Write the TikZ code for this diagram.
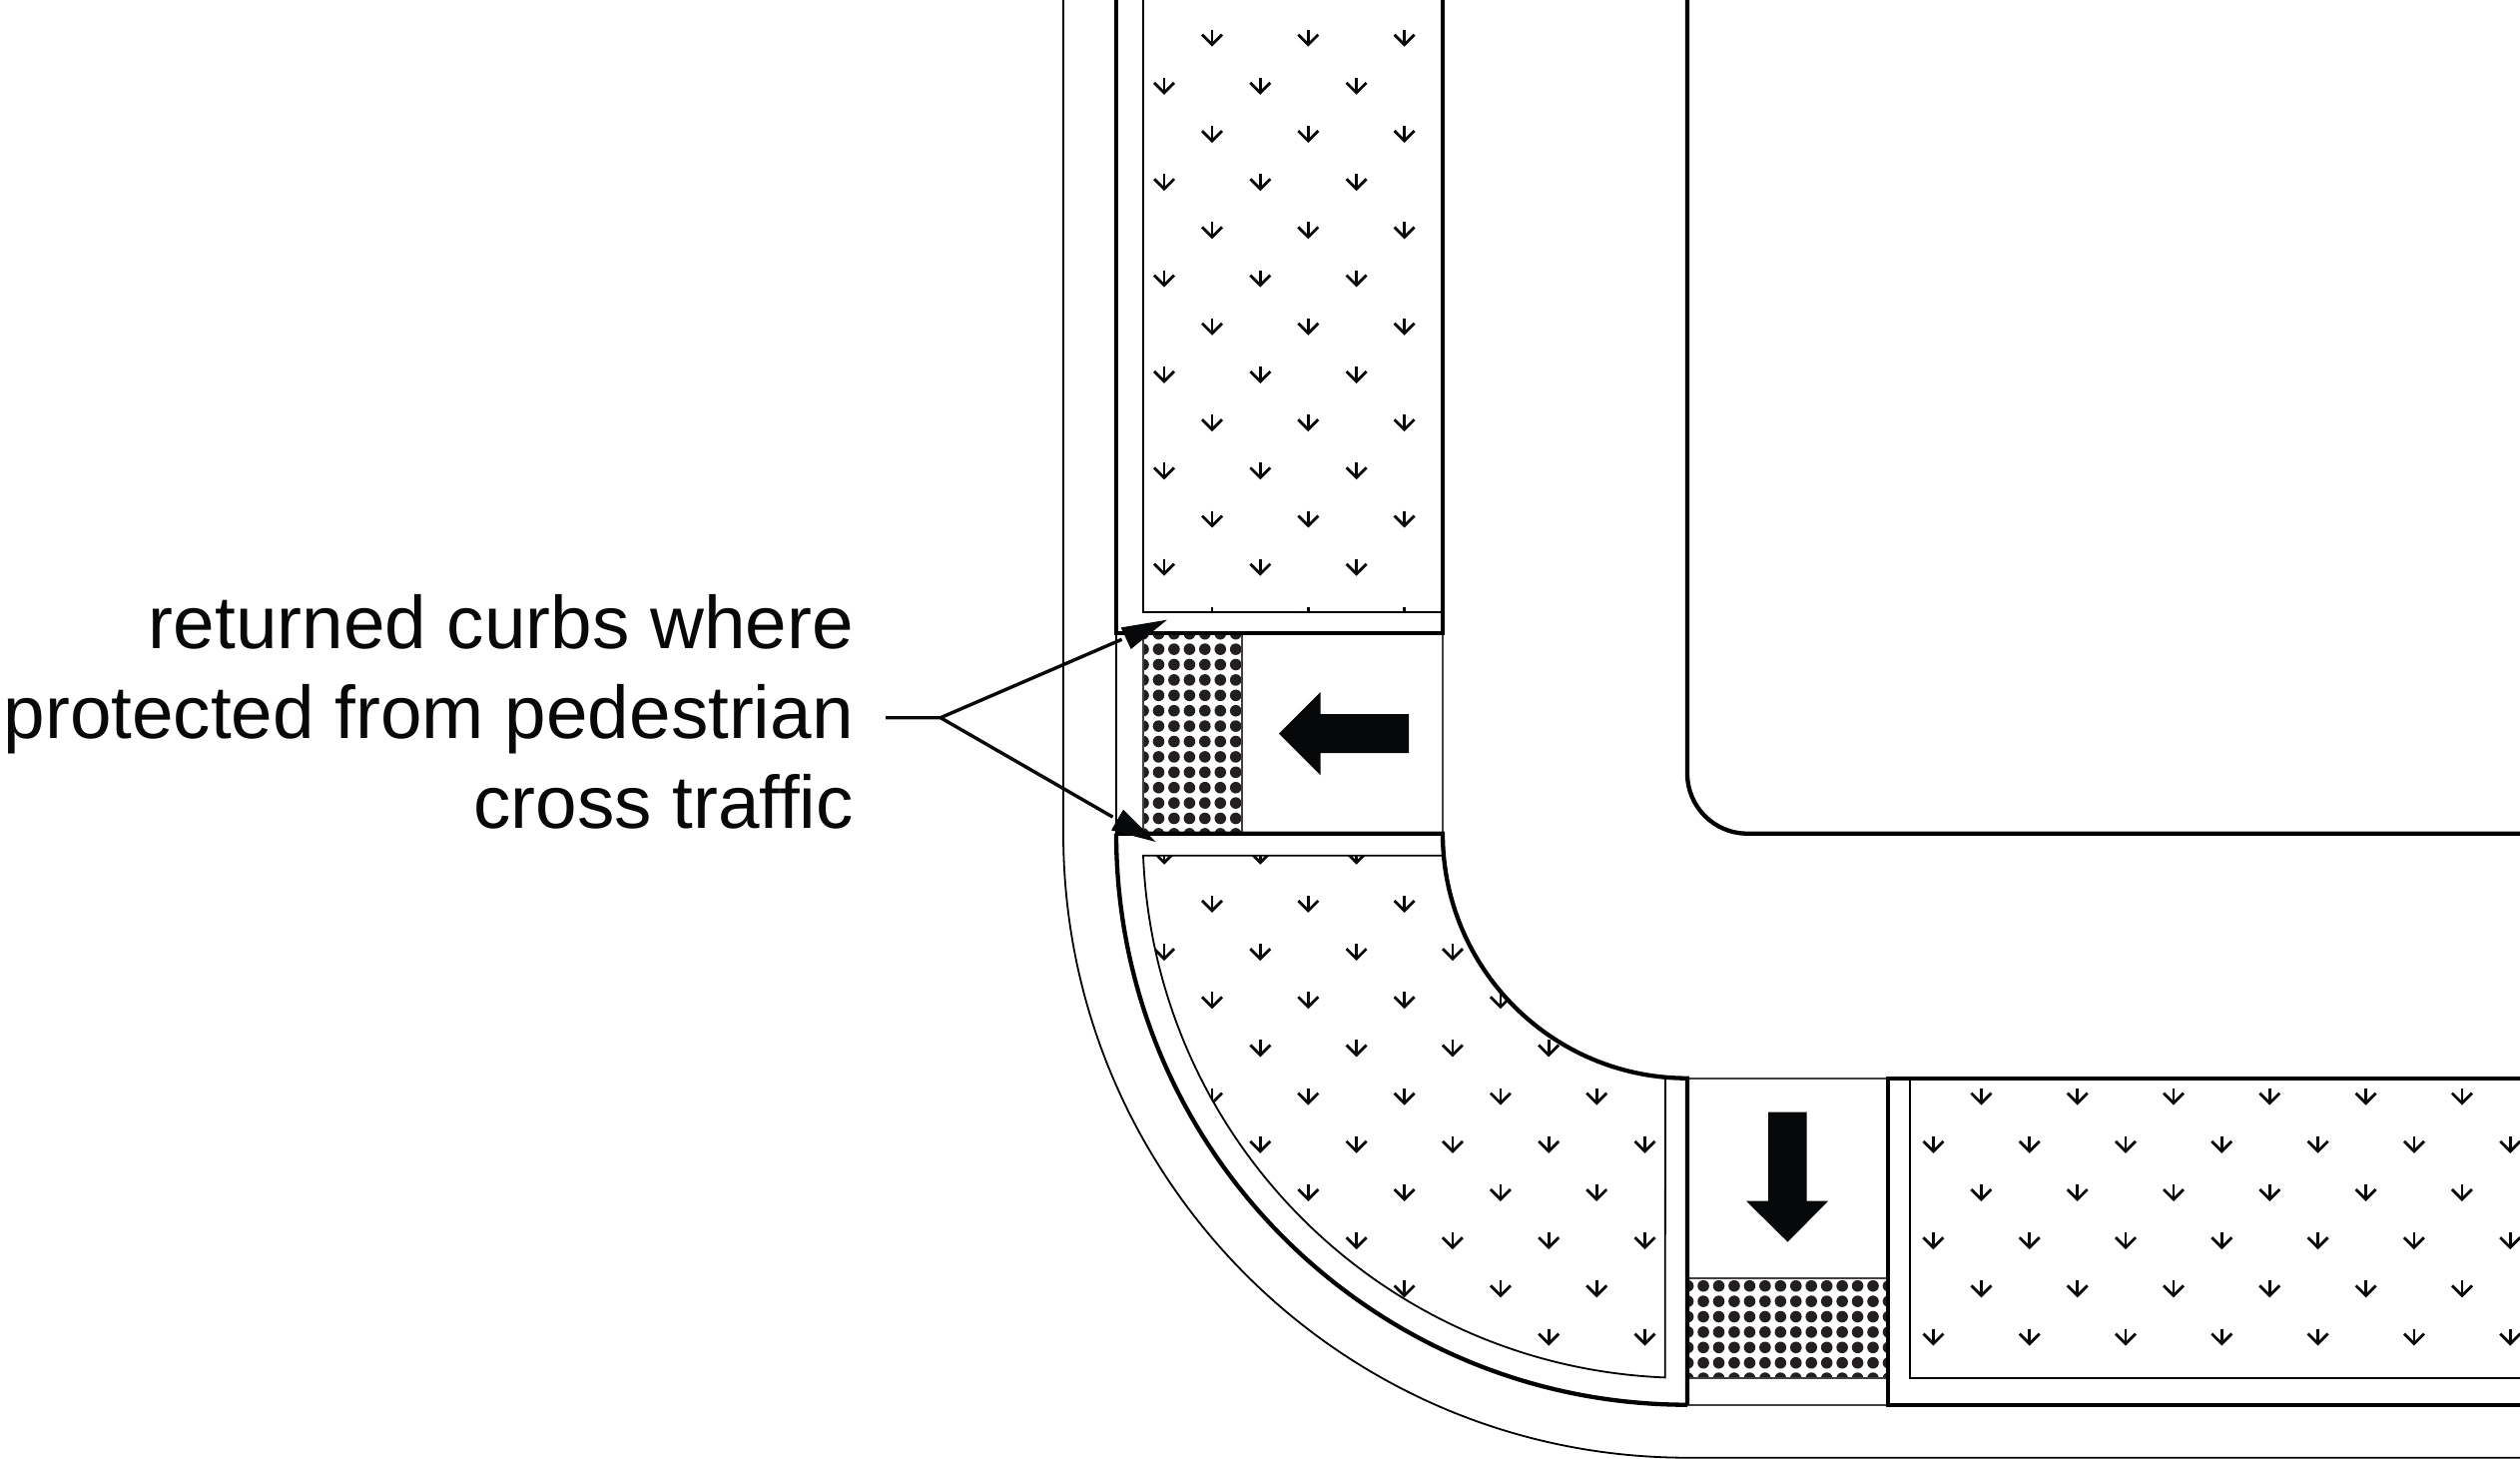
\documentclass[tikz,border=0pt]{standalone}
\usepackage{fontspec}
\setmainfont{Liberation Sans}
\usetikzlibrary{calc}
\definecolor{ink}{HTML}{070809}
\definecolor{dotink}{HTML}{231F20}
\tikzset{
  thickline/.style={draw=black,line width=4.3pt},
  thinline/.style={draw=black,line width=1.8pt},
  hairline/.style={draw=black!75,line width=1.6pt},
  bigarrow/.style={fill=ink,draw=none},
  leader/.style={draw=ink,line width=3.4pt},
  labeltext/.style={font=\fontsize{74.7}{90}\selectfont,align=right,anchor=east,inner sep=0pt,text=ink}
}
\newcommand{\smallarrow}[2]{%
  \draw[ink,line width=2.8pt] (#1,#2-15) -- (#1,#2);
  \draw[ink,line width=2.8pt,miter limit=4] (#1-10,#2-10) -- (#1,#2) -- (#1+10,#2-10);
}
\newcommand{\arrowfield}[2]{%
  \foreach \k in {#1,...,#2}{%
    \pgfmathsetmacro{\yy}{44+48.18*\k}
    \pgfmathtruncatemacro{\odd}{mod(\k,2)}
    \pgfmathsetmacro{\xs}{\odd==1 ? 1166 : 1214}
    \foreach \j in {0,...,14}{%
      \pgfmathsetmacro{\xx}{\xs+96.3*\j}
      \smallarrow{\xx}{\yy}
    }
  }
}
\newcommand{\dotfield}[4]{% x0 y0 columns rows
  \foreach \i in {0,...,#3}{\foreach \j in {0,...,#4}{%
    \fill[dotink] (#1+15.45*\i,#2+15.4*\j) circle[radius=5.8];
  }}
}
\begin{document}
\begin{tikzpicture}[x=1pt,y=-1pt]
\useasboundingbox (0,0) rectangle (2524,1461);
\begin{scope}[yshift=-0.7pt]
% arrow fields, clipped to the sidewalk areas
\begin{scope}
  \clip (1145,-2) rectangle (1445,612);
  \arrowfield{0}{12}
\end{scope}
\begin{scope}
  \clip (1145,856) -- (1446,856) arc[start angle=174.85,end angle=95.15,radius=245]
     -- (1668,1379) arc[start angle=92.3,end angle=177.7,radius=545] -- cycle;
  \arrowfield{17}{28}
\end{scope}
\begin{scope}
  \clip (1913,1081) rectangle (2524,1379);
  \arrowfield{22}{28}
\end{scope}
% dot fields
\begin{scope}
  \clip (1145,634) rectangle (1244,834);
  \dotfield{1145}{634}{6}{13}
\end{scope}
\begin{scope}
  \clip (1690,1279) rectangle (1891,1379);
  \dotfield{1690.6}{1287}{13}{6}
\end{scope}
% thin lines
\draw[thinline] (1065,-2) -- (1065,834) arc[start angle=180,end angle=90,radius=625] -- (2526,1459);
\draw[thinline] (1145,-2) -- (1145,612) -- (1445,612);
\draw[thinline] (1446,856) -- (1145,856)
   arc[start angle=177.7,end angle=92.3,radius=545] -- (1668,1078);
\draw[thinline] (1913,1079) -- (1913,1379) -- (2526,1379);
\draw[thinline] (1118,633) -- (1118,834);
\draw[hairline] (1145,633) -- (1145,834);
\draw[hairline] (1244,633) -- (1244,834);
\draw[hairline] (1445,633) -- (1445,834);
\draw[hairline] (1690,1079) -- (1891,1079);
\draw[hairline] (1690,1279) -- (1891,1279);
\draw[hairline] (1690,1379) -- (1891,1379);
\draw[hairline] (1690,1406) -- (1891,1406);
% thick lines
\draw[thickline] (1118,-2) -- (1118,633) -- (1445,633) -- (1445,-2);
\draw[thickline] (1118,834) -- (1445,834) arc[start angle=180,end angle=90,radius=245] -- (1690,1406);
\draw[thickline] (1118,834) arc[start angle=180,end angle=90,radius=572];
\draw[thickline] (2526,1079) -- (1891,1079) -- (1891,1406) -- (2526,1406);
\draw[thickline] (1690,-2) -- (1690,774) arc[start angle=180,end angle=90,radius=60] -- (2526,834);
% big arrows
\fill[bigarrow] (1281,734) -- (1322.7,692.3) -- (1322.7,714.3) -- (1411,714.3) -- (1411,753.3) -- (1322.7,753.3) -- (1322.7,775.7) -- cycle;
\fill[bigarrow] (1790.5,1243) -- (1749,1202) -- (1771,1202) -- (1771,1113) -- (1809.5,1113) -- (1809.5,1202) -- (1831,1202) -- cycle;
% label and leaders
\node[labeltext] (lbl) at (855,712) {returned curbs where\\protected from pedestrian\\cross traffic};
\coordinate (stem) at (887,718);
\coordinate (fork) at (942,718);
\coordinate (tipa) at (1169,620);
\coordinate (tipb) at (1157.7,842.3);
\draw[leader] (stem) -- (fork) -- ($(fork)!0.8!(tipa)$);
\draw[leader] (fork) -- ($(fork)!0.8!(tipb)$);
\fill[ink] (tipa) -- (1122.7,627.7) -- (1132.7,649.3) -- cycle;
\fill[ink] (tipb) -- (1125,810) -- (1113,830.7) -- cycle;
\end{scope}
\end{tikzpicture}
\end{document}
